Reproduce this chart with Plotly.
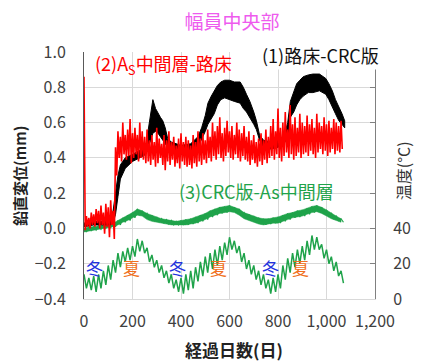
import plotly.graph_objects as go

# ---------------- data ----------------
# (1) 路床-CRC版 : black band (upper / lower edge)
black_days = [0, 40, 80, 110, 120, 130, 140, 150, 170, 200, 230, 255, 265, 275, 284, 295, 305, 315, 325, 335,
              345, 360, 400, 440, 470, 485, 500, 511, 525, 537, 550, 564, 580, 600, 620, 644, 657, 670, 684, 700,
              711, 724, 740, 770, 800, 825, 840, 851, 865, 877, 890, 904, 925, 944, 971, 985, 997, 1010, 1024, 1037,
              1051, 1064, 1075]
black_hi = [0.03, 0.04, 0.04, 0.05, 0.10, 0.20, 0.30, 0.36, 0.40, 0.42, 0.44, 0.46, 0.56, 0.66, 0.73, 0.68, 0.65, 0.63, 0.61, 0.57,
            0.51, 0.49, 0.47, 0.48, 0.52, 0.57, 0.64, 0.71, 0.75, 0.78, 0.81, 0.83, 0.84, 0.84, 0.83, 0.83, 0.80, 0.76, 0.72, 0.66,
            0.61, 0.53, 0.50, 0.49, 0.50, 0.52, 0.60, 0.72, 0.78, 0.82, 0.84, 0.86, 0.87, 0.875, 0.875, 0.86, 0.85, 0.82, 0.78, 0.73,
            0.69, 0.65, 0.61]
black_lo = [0.01, 0.02, 0.02, 0.02, 0.03, 0.08, 0.18, 0.28, 0.34, 0.38, 0.40, 0.42, 0.46, 0.50, 0.54, 0.55, 0.54, 0.52, 0.50, 0.48,
            0.46, 0.44, 0.42, 0.43, 0.46, 0.50, 0.55, 0.59, 0.62, 0.65, 0.70, 0.73, 0.74, 0.73, 0.72, 0.71, 0.68, 0.66, 0.63, 0.59,
            0.56, 0.50, 0.46, 0.45, 0.46, 0.48, 0.52, 0.63, 0.66, 0.70, 0.73, 0.75, 0.77, 0.77, 0.78, 0.77, 0.76, 0.73, 0.69, 0.65,
            0.61, 0.59, 0.57]

# (2) As中間層-路床 : red noisy record, peaks (every 10 days) and troughs (in between)
red_days = list(range(0, 1061, 10))
red_hi = [0.86, 0.07, 0.06, 0.09, 0.08, 0.11, 0.10, 0.13, 0.09, 0.14, 0.12, 0.16, 0.10,
          0.46, 0.55, 0.52, 0.60, 0.53, 0.56, 0.62, 0.54, 0.57, 0.53, 0.60, 0.55, 0.52,
          0.56, 0.50, 0.53, 0.49, 0.57, 0.51, 0.48, 0.53, 0.50, 0.55, 0.49, 0.52, 0.47, 0.51, 0.54, 0.49, 0.52,
          0.50, 0.47, 0.53, 0.49, 0.55, 0.51, 0.54, 0.50,
          0.56, 0.52, 0.60, 0.55, 0.58, 0.63, 0.54, 0.57, 0.61, 0.55, 0.58, 0.53, 0.60, 0.56, 0.54, 0.58,
          0.52, 0.55, 0.50, 0.53, 0.49, 0.51, 0.54, 0.50, 0.56, 0.52,
          0.58, 0.62, 0.55, 0.68, 0.57, 0.60, 0.66, 0.56, 0.70, 0.59, 0.63, 0.57, 0.65, 0.60,
          0.58, 0.64, 0.59, 0.62, 0.57, 0.65, 0.60, 0.58, 0.63, 0.59, 0.61, 0.57, 0.62, 0.60, 0.58, 0.61]
red_lo = [-0.01, 0.01, 0.00, 0.02, 0.01, 0.03, 0.00, 0.02, -0.03, 0.01, -0.05, 0.02, -0.06,
          0.30, 0.40, 0.38, 0.42, 0.39, 0.41, 0.37, 0.40, 0.42, 0.38, 0.40, 0.39, 0.37,
          0.38, 0.36, 0.39, 0.35, 0.37, 0.40, 0.36, 0.33, 0.38, 0.36, 0.39, 0.35, 0.37, 0.34, 0.38, 0.36, 0.35,
          0.36, 0.34, 0.37, 0.35, 0.38, 0.36, 0.39, 0.37,
          0.40, 0.38, 0.41, 0.39, 0.42, 0.40, 0.38, 0.41, 0.43, 0.40, 0.39, 0.42, 0.40, 0.38, 0.41, 0.39,
          0.38, 0.36, 0.39, 0.37, 0.35, 0.38, 0.36, 0.39, 0.37, 0.40,
          0.41, 0.39, 0.42, 0.40, 0.38, 0.41, 0.43, 0.40, 0.42, 0.39, 0.41, 0.43, 0.40, 0.42,
          0.43, 0.41, 0.44, 0.42, 0.40, 0.43, 0.45, 0.42, 0.44, 0.41, 0.43, 0.45, 0.42, 0.44, 0.43, 0.45]

# (3) CRC版-As中間層 : green displacement band, and temperature (right axis)
green_days = list(range(0, 1061, 20))
disp_hi = [0.00, 0.01, 0.01, 0.015, 0.02, 0.025, 0.03, 0.045, 0.06, 0.075,
           0.09, 0.11, 0.10, 0.085, 0.075, 0.065, 0.055, 0.05, 0.045, 0.04,
           0.045, 0.05, 0.055, 0.065, 0.075, 0.085, 0.10, 0.11, 0.12, 0.125,
           0.13, 0.12, 0.11, 0.09, 0.08, 0.07, 0.06, 0.055, 0.055, 0.06,
           0.065, 0.075, 0.085, 0.09, 0.10, 0.105, 0.115, 0.125, 0.13, 0.12,
           0.105, 0.085, 0.07, 0.055]
disp_lo = [-0.02, -0.015, -0.01, -0.005, 0.00, 0.005, 0.01, 0.02, 0.035, 0.045,
           0.06, 0.075, 0.07, 0.05, 0.04, 0.035, 0.03, 0.025, 0.02, 0.02,
           0.02, 0.02, 0.025, 0.03, 0.04, 0.05, 0.065, 0.075, 0.085, 0.09,
           0.095, 0.09, 0.075, 0.055, 0.045, 0.035, 0.025, 0.02, 0.025, 0.03,
           0.03, 0.04, 0.05, 0.06, 0.065, 0.07, 0.08, 0.09, 0.095, 0.085,
           0.07, 0.055, 0.045, 0.035]
temp_hi = [14, 12, 13, 14, 16, 19, 22, 26, 27, 29, 30, 34, 33, 29, 25, 22, 19, 16, 14, 11,
           12, 14, 16, 18, 21, 24, 26, 28, 30, 32, 35, 33, 30, 26, 22, 19, 16, 14, 11, 12,
           14, 19, 23, 26, 28, 30, 33, 36, 35, 31, 28, 24, 21, 16]
temp_lo = [6, 5, 4, 6, 8, 11, 15, 18, 21, 22, 24, 27, 26, 21, 18, 15, 12, 9, 6, 4,
           3, 5, 6, 10, 13, 15, 17, 19, 22, 25, 28, 26, 21, 17, 14, 11, 8, 6, 3, 4,
           6, 11, 15, 18, 20, 22, 25, 28, 28, 23, 20, 16, 13, 9]

# season labels
season_text = ["冬", "夏", "冬", "夏", "冬", "夏"]
season_day = [44, 194, 384, 554, 770, 894]
season_color = ["#2233DD", "#F07020", "#2233DD", "#F07020", "#2233DD", "#F07020"]

x_ticks = [0, 200, 400, 600, 800, 1000, 1200]
y2_ticks = [0, 20, 40]


def zigzag(days, hi, lo, half):
    xs, ys = [], []
    for d, h, l in zip(days, hi, lo):
        xs += [d, d + half]
        ys += [h, l]
    return xs, ys


GREEN = "#1FA34A"
fig = go.Figure()

tx, ty = zigzag(green_days, temp_hi, temp_lo, 10)
fig.add_trace(go.Scatter(x=tx, y=ty, yaxis="y2", mode="lines",
                         line=dict(color=GREEN, width=1.5), hoverinfo="skip"))

# displacement band: solid core + jagged edge
fig.add_trace(go.Scatter(x=green_days + green_days[::-1], y=disp_hi + disp_lo[::-1],
                         mode="lines", fill="toself", fillcolor=GREEN,
                         line=dict(color=GREEN, width=0.5), hoverinfo="skip"))
dx, dy = zigzag(green_days, disp_hi, disp_lo, 10)
fig.add_trace(go.Scatter(x=dx, y=dy, mode="lines",
                         line=dict(color=GREEN, width=1.2), hoverinfo="skip"))

fig.add_trace(go.Scatter(x=black_days + black_days[::-1], y=black_hi + black_lo[::-1],
                         mode="lines", fill="toself", fillcolor="black",
                         line=dict(color="black", width=1), hoverinfo="skip"))

rx, ry = zigzag(red_days, red_hi, red_lo, 5)
fig.add_trace(go.Scatter(x=rx, y=ry, mode="lines",
                         line=dict(color="#FF0000", width=1.6), hoverinfo="skip"))

# The page body carries an 8px margin, so the figure is sized/placed to compensate.
W, H = 415, 356
CJK = "Noto Sans CJK JP"
ann = []
ann.append(dict(text="(2)A<sub>S</sub>中間層-路床", xref="paper", yref="paper", x=0.03, y=0.951,
                xanchor="left", yanchor="middle", showarrow=False,
                font=dict(family=CJK, size=18, color="#FF0000")))
ann.append(dict(text="(1)路床-CRC版", xref="paper", yref="paper", x=0.605, y=0.986,
                xanchor="left", yanchor="middle", showarrow=False, bgcolor="white",
                font=dict(family=CJK, size=18, color="#111111")))
ann.append(dict(text="(3)CRC版-As中間層", xref="paper", yref="paper", x=0.321, y=0.437,
                xanchor="left", yanchor="middle", showarrow=False,
                font=dict(family=CJK, size=18, color=GREEN)))
for t, d, c in zip(season_text, season_day, season_color):
    ann.append(dict(text=t, x=d, y=-0.224, xref="x", yref="y", showarrow=False,
                    xanchor="center", yanchor="middle", font=dict(family=CJK, size=17, color=c)))
ann.append(dict(text="<b>鉛直変位(mm)</b>", xref="paper", yref="paper", x=-0.222, y=0.5,
                textangle=-90, showarrow=False, xanchor="center", yanchor="middle",
                font=dict(family=CJK, size=15, color="#222222")))
ann.append(dict(text="温度(°C)", xref="paper", yref="paper", x=1.097, y=0.518,
                textangle=-90, showarrow=False, xanchor="center", yanchor="middle",
                font=dict(family=CJK, size=16, color="#333333")))
ann.append(dict(text="<b>経過日数(日)</b>", xref="paper", yref="paper", x=0.515, y=-0.206,
                showarrow=False, xanchor="center", yanchor="middle",
                font=dict(family=CJK, size=17, color="#222222")))

fig.update_layout(
    width=W, height=H,
    margin=dict(l=76, r=40, t=44, b=65),
    paper_bgcolor="white", plot_bgcolor="white",
    showlegend=False,
    font=dict(family=CJK, color="#404040"),
    title=dict(text="幅員中央部", x=224 / W, xanchor="center", y=1 - 14 / H, yanchor="middle",
               font=dict(family=CJK, size=19, color="#EE5BEE")),
    xaxis=dict(range=[0, 1200], tickvals=x_ticks, tickformat=",", showgrid=True, gridcolor="#D9D9D9",
               zeroline=False, showline=True, linecolor="#D9D9D9", ticks="",
               tickfont=dict(size=16, color="#404040"), ticklabelstandoff=8),
    yaxis=dict(range=[-0.4, 1.0], dtick=0.2, tick0=0, tickformat=".1f", showgrid=True, gridcolor="#D9D9D9",
               zeroline=False, showline=True, linecolor="#595959", ticks="",
               tickfont=dict(size=16, color="#404040"), ticklabelstandoff=14),
    yaxis2=dict(overlaying="y", side="right", range=[0, 140], tickvals=y2_ticks,
                ticks="inside", ticklen=5, tickcolor="#808080", showline=True, linecolor="#808080",
                minor=dict(dtick=20, tick0=0, ticks="inside", ticklen=5, tickcolor="#808080", showgrid=False),
                showgrid=False, zeroline=False,
                tickfont=dict(size=16, color="#404040"), ticklabelstandoff=14),
    annotations=ann,
)

fig.write_html("out.html")
